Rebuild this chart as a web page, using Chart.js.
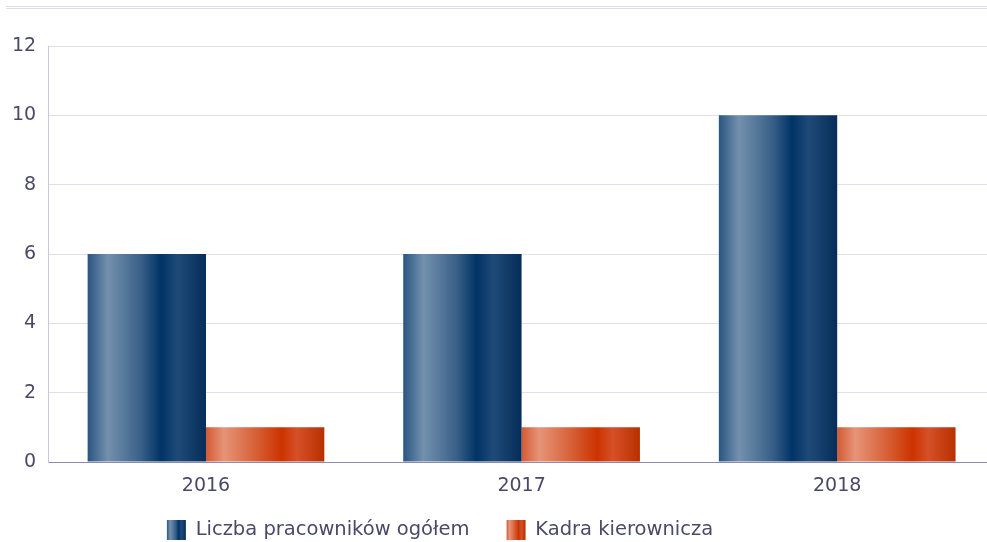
<!DOCTYPE html>
<html><head><meta charset="utf-8">
<script src="https://cdn.jsdelivr.net/npm/chart.js@4"></script>
<style>
html,body{margin:0;padding:0;background:#fff;overflow:hidden;width:987px;height:542px}
#rule{position:absolute;left:6px;right:0;top:6px;height:1px;border-top:1px solid #dcdcea;border-bottom:1px solid #dcdcea;}
#wrap{position:absolute;left:0;top:0;width:995px;height:542px}
</style></head>
<body><div id="rule"></div><div id="wrap"><canvas id="c"></canvas></div>
<script>
const categories = ['2016', '2017', '2018'];
const seriesNames = ['Liczba pracowników ogółem', 'Kadra kierownicza'];
const totalEmployees = [6, 6, 10];
const managers = [1, 1, 1];
const yTicks = [0, 2, 4, 6, 8, 10, 12];

const blueStops = [[0, '#2a5582'], [0.17, '#7391ad'], [0.45, '#3a6088'], [0.62, '#003366'], [0.76, '#1f4a78'], [1, '#062d5a']];
const orangeStops = [[0, '#d35a33'], [0.15, '#e69478'], [0.4, '#d8643c'], [0.64, '#cc3300'], [0.77, '#d65028'], [1, '#b83000']];
const stopsByDataset = [blueStops, orangeStops];
const textColor = '#4a4a68';

function makeGrad(ctx, l, r, stops) {
  const g = ctx.createLinearGradient(l, 0, r, 0);
  stops.forEach(s => g.addColorStop(s[0], s[1]));
  return g;
}

const gradPlugin = {
  id: 'grad',
  beforeLayout(chart) {
    const lg = chart.legend;
    if (lg && !lg._wrappedFit) {
      const orig = lg.fit.bind(lg);
      lg.fit = function () { orig(); this.height = 34; };
      lg._wrappedFit = true;
    }
  },
  afterLayout(chart) {
    const lg = chart.legend;
    if (!lg) return;
    lg.left = 0; lg.right = 880; lg.top = 483;
    if (lg.adjustHitBoxes) lg.adjustHitBoxes();
  },
  afterDatasetsUpdate(chart) {
    chart.data.datasets.forEach((ds, di) => {
      const meta = chart.getDatasetMeta(di);
      meta.data.forEach(el => {
        const l = el.x - el.width / 2, r = el.x + el.width / 2;
        el.options = Object.assign({}, el.options, {backgroundColor: makeGrad(chart.ctx, l, r, stopsByDataset[di])});
      });
    });
  },
  beforeDraw(chart) {
    const lg = chart.legend;
    if (!lg || !lg.legendItems) return;
    lg.legendItems.forEach((it, i) => {
      const hb = lg.legendHitBoxes[i];
      if (!hb) return;
      it.fillStyle = makeGrad(chart.ctx, hb.left, hb.left + lg.options.labels.boxWidth, stopsByDataset[it.datasetIndex]);
    });
  }
};

Chart.defaults.font.family = '"DejaVu Sans", sans-serif';
Chart.defaults.color = textColor;

new Chart(document.getElementById('c'), {
  type: 'bar',
  data: {
    labels: categories,
    datasets: [
      {label: seriesNames[0], data: totalEmployees, backgroundColor: '#1f4a78', borderWidth: 0},
      {label: seriesNames[1], data: managers, backgroundColor: '#cc3300', borderWidth: 0}
    ]
  },
  options: {
    responsive: true,
    maintainAspectRatio: false,
    animation: false,
    categoryPercentage: 0.75,
    barPercentage: 1.0,
    layout: {padding: {top: 46, left: 0, right: 0, bottom: 0}},
    plugins: {
      legend: {
        position: 'bottom',
        labels: {boxWidth: 19, boxHeight: 20, padding: 37, font: {size: 19.5}, color: textColor}
      },
      tooltip: {enabled: false}
    },
    scales: {
      x: {
        grid: {display: false, drawTicks: false},
        border: {display: true, color: '#8a8ab0', width: 1},
        ticks: {font: {size: 19}, color: textColor, padding: 13},
        afterFit(scale) { scale.height = 46; }
      },
      y: {
        min: 0, max: 12,
        afterBuildTicks(scale) { scale.ticks = yTicks.map(v => ({value: v})); },
        grid: {color: '#e0e0ec', drawTicks: false},
        border: {display: true, color: '#c8c8dc', width: 1},
        ticks: {font: {size: 19}, color: textColor, padding: 12}
      }
    }
  },
  plugins: [gradPlugin]
});
</script>
</body></html>
